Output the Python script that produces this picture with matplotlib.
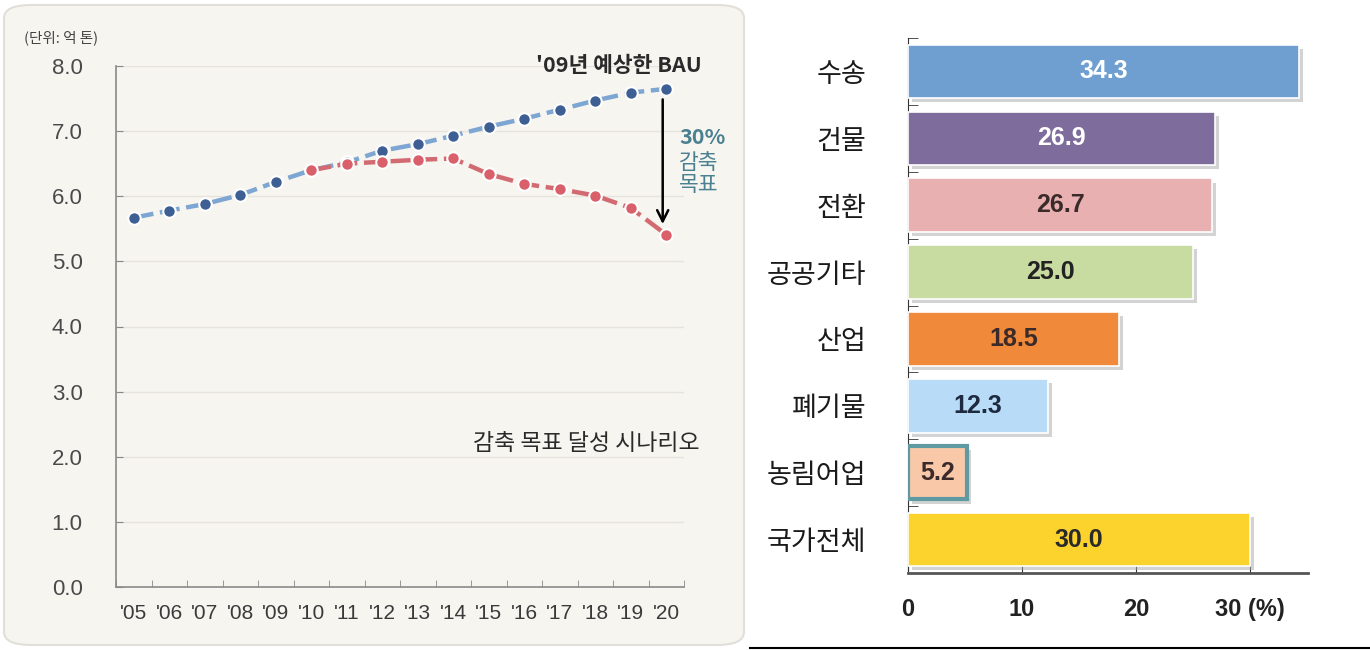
import matplotlib
matplotlib.use('Agg')
import matplotlib.pyplot as plt
import matplotlib.patheffects as pe
from matplotlib.patches import FancyBboxPatch
from matplotlib.lines import Line2D
import numpy as np

plt.rcParams['font.family'] = ['Noto Sans CJK KR', 'DejaVu Sans']

# left chart: emissions (억 톤)
years = ["'05", "'06", "'07", "'08", "'09", "'10", "'11", "'12",
         "'13", "'14", "'15", "'16", "'17", "'18", "'19", "'20"]
bau = [5.67, 5.78, 5.88, 6.02, 6.22, 6.40, 6.52, 6.70,
       6.80, 6.93, 7.07, 7.19, 7.33, 7.47, 7.59, 7.65]
target_years = years[5:]
target = [6.40, 6.50, 6.53, 6.56, 6.58, 6.34, 6.19, 6.11, 6.01, 5.82, 5.41]
y_ticks = [0, 1, 2, 3, 4, 5, 6, 7, 8]

# right chart: reduction rate by sector (%)
sectors = ['수송', '건물', '전환', '공공기타', '산업', '폐기물', '농림어업', '국가전체']
rates = [34.3, 26.9, 26.7, 25.0, 18.5, 12.3, 5.2, 30.0]
bar_colors = ['#6e9fd0', '#7d6c9c', '#e8b0b0', '#c8dba0', '#f08a3a',
              '#b8dcf8', '#f9c8a8', '#fcd22c']
label_colors = ['white', 'white', '#3a2a2a', '#222222', '#3a2a2a',
                '#1e2a40', '#3a2a2a', '#2a2a2a']
x_ticks = [0, 10, 20, 30]
x_ticklabels = ['0', '10', '20', '30 (%)']

fig = plt.figure(figsize=(13.7, 6.5), dpi=100)

# rounded background panel for the line chart
bg = FancyBboxPatch((4 / 1370, 5 / 650), 740 / 1370, 640 / 650,
                    boxstyle='round,pad=0,rounding_size=0.02',
                    transform=fig.transFigure, facecolor='#f7f5f0',
                    edgecolor='#e2dfda', linewidth=1.5, zorder=-1)
fig.patches.append(bg)

ax = fig.add_axes([116 / 1370, 1 - 587 / 650, 568 / 1370, 521 / 650])
ax.set_facecolor('none')
x = np.arange(len(years))
xt = np.arange(5, len(years))

ax.plot(x, bau, linestyle=(0, (4.5, 1.5)), color='#7ea6d3', linewidth=3.2,
        zorder=3)
ax.plot(x, bau, linestyle='none', marker='o', markersize=9,
        markerfacecolor='#3d5f94', markeredgecolor='white',
        markeredgewidth=1.5, zorder=4)
ax.plot(xt, target, linestyle=(0, (4.5, 1.5)), color='#d26a72', linewidth=3.2,
        zorder=5)
ax.plot(xt, target, linestyle='none', marker='o', markersize=9,
        markerfacecolor='#d9606a', markeredgecolor='white',
        markeredgewidth=1.5, zorder=6)

ax.annotate('', xy=(14.9, target[-1] + 0.12), xytext=(14.9, bau[-1] - 0.12),
            arrowprops=dict(arrowstyle='->,head_length=0.8,head_width=0.4',
                            color='black', linewidth=1.8), zorder=7)

ax.set_xlim(-0.5, len(years) - 0.5)
ax.set_ylim(0, 8)
ax.set_yticks(y_ticks)
ax.set_yticklabels([f'{v:.1f}' for v in y_ticks], fontsize=16,
                   color='#4a4a4a', family=['Liberation Sans', 'DejaVu Sans'])
ax.set_xticks(x)
ax.set_xticklabels(years, fontsize=15, color='#3a3a3a',
                   family=['Liberation Sans', 'DejaVu Sans'])
ax.set_xticks(np.arange(-0.5, len(years)), minor=True)
ax.tick_params(axis='x', which='major', length=0, pad=12)
ax.tick_params(axis='x', which='minor', direction='in', length=5,
               color='#888888')
ax.tick_params(axis='y', direction='in', length=5, color='#888888', pad=24)
ax.grid(axis='y', color='#e6e2dc', linewidth=1)
ax.set_axisbelow(True)
for s in ['top', 'right']:
    ax.spines[s].set_visible(False)
for s in ['left', 'bottom']:
    ax.spines[s].set_color('#8a8a8a')
    ax.spines[s].set_linewidth(1.2)

fig.text(24 / 1370, 1 - 38 / 650, '(단위: 억 톤)', fontsize=10.5,
         color='#444444', va='center')
fig.text(702 / 1370, 1 - 66 / 650, "'09년 예상한 BAU", fontsize=15.5,
         fontweight='bold', color='#2a2a2a', ha='right', va='center')
fig.text(679 / 1370, 1 - 138 / 650, '30%', fontsize=15.5, fontweight='bold',
         color='#4a8090', ha='left', va='center')
fig.text(679 / 1370, 1 - 152 / 650, '감축\n목표', fontsize=15.5,
         color='#4a8090', ha='left', va='top', linespacing=1.0)
fig.text(700 / 1370, 1 - 444 / 650, '감축 목표 달성 시나리오', fontsize=16.5,
         color='#2a2a2a', ha='right', va='center')

# bar chart
bx = fig.add_axes([908 / 1370, 1 - 573 / 650, 400 / 1370, 535 / 650])
ypos = np.arange(len(sectors))
bars = bx.barh(ypos, rates, height=0.8, color=bar_colors, edgecolor='white',
               linewidth=1.2, zorder=3)
for b in bars:
    b.set_path_effects([pe.SimplePatchShadow(offset=(3, -3),
                                             shadow_rgbFace='#a8a8a8',
                                             alpha=0.5), pe.Normal()])
bars[6].set_edgecolor('#5f9aa2')
bars[6].set_linewidth(3)
for i, (v, c) in enumerate(zip(rates, label_colors)):
    bx.text(v / 2, i, f'{v:.1f}', ha='center', va='center', fontsize=18,
            fontweight='bold', color=c, zorder=5,
            family=['Liberation Sans', 'DejaVu Sans'])

bx.set_ylim(len(sectors) - 0.5, -0.5)
bx.set_xlim(0, 35.1)
bx.set_yticks(ypos)
bx.set_yticklabels(sectors, fontsize=19.5, color='#1a1a1a')
bx.set_yticks(np.arange(-0.5, len(sectors)), minor=True)
bx.tick_params(axis='y', which='major', length=0, pad=30)
bx.tick_params(axis='y', which='minor', direction='in', length=7,
               color='#333333')
bx.set_xticks(x_ticks)
bx.set_xticklabels(x_ticklabels, fontsize=17, fontweight='bold',
                   color='#222222', family=['Liberation Sans', 'DejaVu Sans'])
bx.tick_params(axis='x', direction='in', length=6, color='#333333', pad=18)
for s in ['top', 'right']:
    bx.spines[s].set_visible(False)
bx.spines['left'].set_color('#333333')
bx.spines['bottom'].set_color('#555555')
bx.spines['bottom'].set_linewidth(2)

fig.lines.append(Line2D([750 / 1370, 1], [1 - 648 / 650, 1 - 648 / 650],
                        transform=fig.transFigure, color='black',
                        linewidth=1.5))

fig.savefig('out.png', dpi=100)
